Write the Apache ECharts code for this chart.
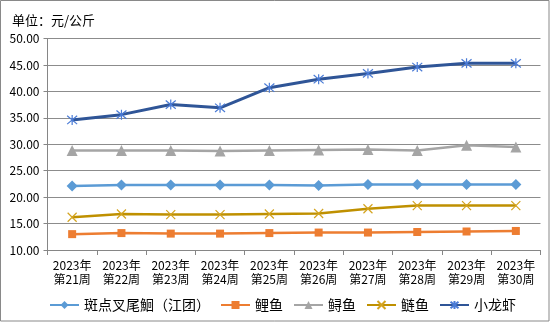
<!DOCTYPE html>
<html>
<head>
<meta charset="utf-8">
<script src="https://cdn.jsdelivr.net/npm/echarts@6/dist/echarts.min.js"></script>
<style>html,body{margin:0;padding:0;background:#fff;}#c{width:550px;height:322px;}</style>
</head>
<body>
<div id="c"></div>
<script>
const categories = ['2023年第21周','2023年第22周','2023年第23周','2023年第24周','2023年第25周','2023年第26周','2023年第27周','2023年第28周','2023年第29周','2023年第30周'];
const seriesNames = ['斑点叉尾鮰（江团）','鲤鱼','鲟鱼','鲢鱼','小龙虾'];
const channelCatfish = [22.1, 22.3, 22.3, 22.3, 22.3, 22.2, 22.4, 22.4, 22.4, 22.4];
const carp = [13.0, 13.2, 13.1, 13.1, 13.2, 13.3, 13.3, 13.4, 13.5, 13.6];
const sturgeon = [28.8, 28.8, 28.8, 28.7, 28.8, 28.9, 29.0, 28.8, 29.8, 29.5];
const silverCarp = [16.2, 16.8, 16.7, 16.7, 16.8, 16.9, 17.8, 18.4, 18.4, 18.4];
const crayfish = [34.6, 35.6, 37.5, 36.9, 40.7, 42.3, 43.4, 44.6, 45.3, 45.3];
const yTicks = {min: 10, max: 50, interval: 5};
const unitLabel = '单位：元/公斤';

const font = '"Noto Sans CJK SC", "Noto Sans", sans-serif';
const chart = echarts.init(document.getElementById('c'));
const crossPath = 'path://M0 0L10 10M10 0L0 10';
const starPath = 'path://M0 0L10 10M10 0L0 10M5 -1L5 11';
function mk(name, data, color, symbol, size, width, mcolor, stroke) {
  const s = {
    name, type: 'line', data, symbol, symbolSize: size,
    lineStyle: {color, width},
    itemStyle: {color: mcolor || color},
    emphasis: {disabled: true},
    animation: false
  };
  if (stroke) {
    s.itemStyle = {color: 'rgba(0,0,0,0)', borderColor: mcolor, borderWidth: 1.2};
  }
  return s;
}
chart.setOption({
  backgroundColor: '#fff',
  textStyle: {fontFamily: font},
  title: {text: unitLabel, left: 7, top: 9, textStyle: {fontSize: 13, fontWeight: 'normal', color: '#000', fontFamily: font}},
  grid: {left: 47.5, right: 9.5, top: 38.5, bottom: 72, containLabel: false},
  legend: {
    bottom: 5, left: 44, itemWidth: 29, itemHeight: 10, itemGap: 10,
    textStyle: {fontSize: 14, color: '#000', fontFamily: font},
    data: seriesNames
  },
  xAxis: {
    type: 'category', data: categories, boundaryGap: true,
    axisLine: {lineStyle: {color: '#868686', width: 1}},
    axisTick: {show: true, length: 5, interval: 0, lineStyle: {color: '#868686'}},
    axisLabel: {interval: 0, fontSize: 12, color: '#000', lineHeight: 14, margin: 8,
      formatter: v => v.replace('年', '年\n')}
  },
  yAxis: {
    type: 'value', min: yTicks.min, max: yTicks.max, interval: yTicks.interval,
    axisLine: {show: true, lineStyle: {color: '#868686'}},
    axisTick: {show: true, length: 4, lineStyle: {color: '#868686'}},
    splitLine: {lineStyle: {color: '#8c8c8c', width: 1}},
    axisLabel: {fontSize: 12, color: '#000', margin: 8, formatter: v => v.toFixed(2)}
  },
  graphic: [{type: 'rect', shape: {x: 0.5, y: 0.5, width: 548.5, height: 320.5}, style: {fill: 'none', stroke: '#898989', lineWidth: 1}, silent: true, z: 100}],
  series: [
    mk(seriesNames[0], channelCatfish, '#5B9BD5', 'diamond', 11, 2.5),
    mk(seriesNames[1], carp, '#ED7D31', 'rect', 8, 2.5),
    mk(seriesNames[2], sturgeon, '#A5A5A5', 'triangle', 11, 2.5),
    mk(seriesNames[3], silverCarp, '#BF9000', crossPath, 9, 2.5, '#D4A420', true),
    mk(seriesNames[4], crayfish, '#2F5597', starPath, 10, 3, '#4A7BD6', true)
  ]
});
</script>
</body>
</html>
